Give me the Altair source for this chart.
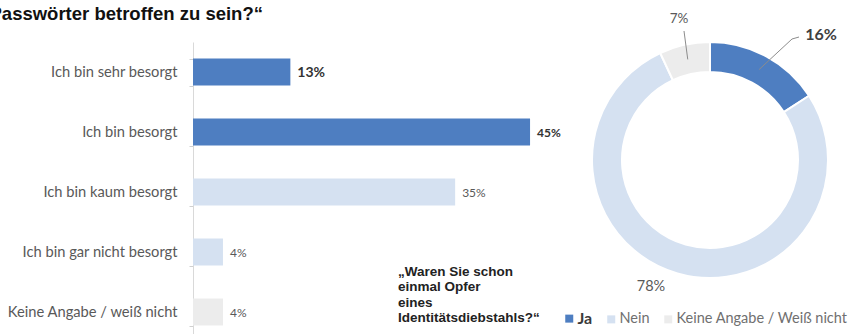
import math
import altair as alt
import pandas as pd

# ---------------- data ----------------
concern_labels = [
    "Ich bin sehr besorgt",
    "Ich bin besorgt",
    "Ich bin kaum besorgt",
    "Ich bin gar nicht besorgt",
    "Keine Angabe / weiß nicht",
]
concern_values = [13, 45, 35, 4, 4]
concern_groups = ["besorgt", "besorgt", "nicht besorgt", "nicht besorgt", "keine Angabe"]

victim_labels = ["Ja", "Nein", "Keine Angabe / Weiß nicht"]
victim_values = [16, 78, 7]

title_text = "Passwörter betroffen zu sein?\u201c"
question_text = "\u201eWaren Sie schon\neinmal Opfer\neines\nIdentitätsdiebstahls?\u201c"

# ---------------- layout / style ----------------
W, H = 655, 292          # plot area
PAD_L, PAD_T = 193, 42   # plot origin in the page
PX_PER_PCT = 7.49
DARK, LIGHT, GREY = "#4e7ec1", "#d5e1f1", "#ececec"
group_colors = {"besorgt": DARK, "nicht besorgt": LIGHT, "keine Angabe": GREY}
bar_label_bold = [True, True, False, False, False]
bar_label_size = [14, 12, 12, 12, 12]

CX, CY = 710, 160        # donut centre (page px)
R_IN, R_OUT = 88, 118
R_MID = (R_IN + R_OUT) / 2
# label placement for the donut (page px)
donut_label_pos = {
    "Ja": dict(x=821, y=35, size=16, bold=True, color="#404040"),
    "Nein": dict(x=651, y=287, size=14.5, bold=False, color="#595959"),
    "Keine Angabe / Weiß nicht": dict(x=679, y=19, size=13.5, bold=False, color="#595959"),
}
leader_tail = {
    "Ja": [(792, 39), (799, 37)],
    "Keine Angabe / Weiß nicht": [(684, 31)],
}

# ---------------- bar chart ----------------
bar_df = pd.DataFrame({
    "label": concern_labels,
    "value": concern_values,
    "group": concern_groups,
    "text": [f"{v}%" for v in concern_values],
    "bold": bar_label_bold,
    "fs": bar_label_size,
})

x_bar = alt.X("value:Q", scale=alt.Scale(domain=[0, W / PX_PER_PCT], nice=False, zero=True), axis=None)
y_bar = alt.Y(
    "label:N",
    sort=concern_labels,
    scale=alt.Scale(range=[0, 300], paddingInner=0.55, paddingOuter=0.275),
    axis=alt.Axis(
        title=None, domainColor="#d9d9d9", tickColor="#d0d0d0", tickSize=4,
        tickBand="extent", labelFont="Lato", labelFontSize=14.7, labelColor="#595959",
        labelPadding=12, grid=False, labelLimit=300,
    ),
)

bars = alt.Chart(bar_df).mark_bar().encode(
    x=x_bar, y=y_bar,
    color=alt.Color("group:N",
                    scale=alt.Scale(domain=list(group_colors), range=list(group_colors.values())),
                    legend=None),
)
lbl_bold = alt.Chart(bar_df).transform_filter("datum.bold").mark_text(
    align="left", baseline="middle", dx=7, dy=1, font="Lato", fontWeight="bold", color="#333333"
).encode(x=x_bar, y=y_bar, text="text:N", size=alt.Size("fs:Q", scale=None, legend=None))
lbl_norm = alt.Chart(bar_df).transform_filter("!datum.bold").mark_text(
    align="left", baseline="middle", dx=7, dy=1, font="Lato", fontSize=12, color="#595959"
).encode(x=x_bar, y=y_bar, text="text:N")

bar_layer = alt.layer(bars, lbl_bold, lbl_norm)

# ---------------- donut ----------------
total = sum(victim_values)
cum = 0
rows, leader_rows = [], []
for i, (lab, val) in enumerate(zip(victim_labels, victim_values)):
    mid = (cum + val / 2) / total * 2 * math.pi
    cum += val
    p = donut_label_pos[lab]
    rows.append(dict(cat=lab, value=val, ord=i, text=f"{val}%",
                     lx=p["x"] - PAD_L, ly=p["y"] - PAD_T, fs=p["size"],
                     bold=p["bold"], tc=p["color"]))
    if lab in leader_tail:
        sx = CX + R_MID * math.sin(mid)
        sy = CY - R_MID * math.cos(mid)
        pts = [(sx, sy)] + leader_tail[lab]
        for k, (px, py) in enumerate(pts):
            leader_rows.append(dict(cat=lab, k=k, px=px - PAD_L, py=py - PAD_T))

donut_df = pd.DataFrame(rows)
leader_df = pd.DataFrame(leader_rows)

arc = alt.Chart(donut_df).mark_arc(
    innerRadius=R_IN, outerRadius=R_OUT, stroke="white", strokeWidth=2
).encode(
    theta=alt.Theta("value:Q", stack=True),
    order=alt.Order("ord:Q"),
    color=alt.Color(
        "cat:N", sort=victim_labels,
        scale=alt.Scale(domain=victim_labels, range=[DARK, LIGHT, GREY]),
        legend=alt.Legend(
            title=None, orient="none", legendX=369, legendY=269, direction="horizontal",
            symbolType="square", symbolSize=64, symbolStrokeWidth=0, padding=0,
            labelFont="Lato", labelOffset=1, columnPadding=11,
            labelFontSize={"expr": "datum.label == 'Ja' ? 16 : 14.5"},
            labelFontWeight={"expr": "datum.label == 'Ja' ? 'bold' : 'normal'"},
            labelColor={"expr": "datum.label == 'Ja' ? '#3a3a3a' : '#707070'"},
            labelLimit=300,
        ),
    ),
    x=alt.value(CX - PAD_L),
    y=alt.value(CY - PAD_T),
)

dl_x = alt.X("lx:Q", scale=None, axis=None)
dl_y = alt.Y("ly:Q", scale=None, axis=None)
donut_lbl_bold = alt.Chart(donut_df).transform_filter("datum.bold").mark_text(
    align="center", baseline="middle", font="Lato", fontWeight="bold", color="#404040"
).encode(x=dl_x, y=dl_y, text="text:N", size=alt.Size("fs:Q", scale=None, legend=None))
donut_lbl_norm = alt.Chart(donut_df).transform_filter("!datum.bold").mark_text(
    align="center", baseline="middle", font="Lato", color="#595959"
).encode(x=dl_x, y=dl_y, text="text:N", size=alt.Size("fs:Q", scale=None, legend=None))

leaders = alt.Chart(leader_df).mark_line(color="#8c8c8c", strokeWidth=1).encode(
    x=alt.X("px:Q", scale=None, axis=None),
    y=alt.Y("py:Q", scale=None, axis=None),
    detail="cat:N",
    order="k:Q",
)

# ---------------- free texts ----------------
title = alt.Chart(pd.DataFrame({"t": [title_text]})).mark_text(
    align="left", baseline="alphabetic", font="Liberation Sans", fontSize=18.5,
    fontWeight="bold", color="#111111"
).encode(text="t:N", x=alt.value(-10.5 - PAD_L), y=alt.value(20 - PAD_T))

question = alt.Chart(pd.DataFrame({"t": [question_text]})).mark_text(
    align="left", baseline="alphabetic", font="Liberation Sans", fontSize=13.5,
    fontWeight="bold", color="#222222", lineBreak="\n", lineHeight=15.4
).encode(text="t:N", x=alt.value(398 - PAD_L), y=alt.value(276 - PAD_T))

chart = alt.layer(
    bar_layer, arc, donut_lbl_bold, donut_lbl_norm, leaders, title, question
).resolve_scale(
    x="independent", y="independent", color="independent", size="independent"
).properties(
    width=W, height=H,
    padding={"left": PAD_L, "top": PAD_T, "right": 0, "bottom": 0},
    autosize=alt.AutoSizeParams(type="none"),
).configure(background="white").configure_view(stroke=None)

chart.save("out.html", embed_options={"renderer": "svg", "actions": False})
